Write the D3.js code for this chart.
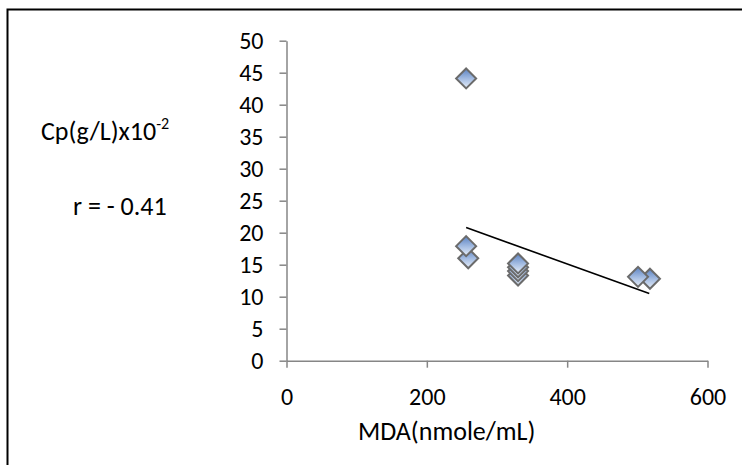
<!DOCTYPE html>
<html>
<head>
<meta charset="utf-8">
<script src="https://cdn.jsdelivr.net/npm/d3@7"></script>
<style>
  html, body { margin: 0; padding: 0; background: #fff; }
  svg text { font-family: Carlito, Lato, "Open Sans", sans-serif; fill: #000; }
</style>
</head>
<body>
<svg id="chart" width="742" height="465"></svg>
<script>
// MDA (nmole/mL) against plasma Cp (g/L x10^-2)
const mdaValues = [256, 256, 259, 330, 330, 330, 330, 501, 518];
const cpValues  = [44.1, 17.9, 16.0, 15.2, 14.6, 14.0, 13.3, 13.1, 12.8];

// Linear trend line end points
const trendMda = [256, 517];
const trendCp  = [20.8, 10.5];

const xTicks = [0, 200, 400, 600];
const yTicks = [0, 5, 10, 15, 20, 25, 30, 35, 40, 45, 50];

const xTitle = "MDA(nmole/mL)";
const yTitle = "Cp(g/L)x10";
const yTitleSup = "-2";
const rLabel = "r = - 0.41";

const svg = d3.select("#chart");

// outer chart frame (runs off the right and bottom edges)
svg.append("rect")
  .attr("x", 7.5).attr("y", 9.5)
  .attr("width", 760).attr("height", 480)
  .attr("fill", "none").attr("stroke", "#000").attr("stroke-width", 2);

const x = d3.scaleLinear().domain([0, 600]).range([286.5, 707.5]);
const y = d3.scaleLinear().domain([0, 50]).range([360.7, 40.7]);

const axisColor = "#868686";

const gx = svg.append("g")
  .attr("transform", `translate(0,${y(0)})`)
  .call(d3.axisBottom(x).tickValues(xTicks).tickSize(7).tickPadding(20).tickSizeOuter(0));
const gy = svg.append("g")
  .attr("transform", `translate(${x(0)},0)`)
  .call(d3.axisLeft(y).tickValues(yTicks).tickSize(7).tickPadding(16).tickSizeOuter(0));

[gx, gy].forEach(g => {
  g.select(".domain").attr("stroke", axisColor).attr("stroke-width", 1.5);
  g.selectAll(".tick line").attr("stroke", axisColor).attr("stroke-width", 1.5);
  g.selectAll(".tick text").attr("font-size", 24).attr("fill", "#000")
    .style("font-family", "Carlito, Lato, 'Open Sans', sans-serif");
});

// marker gradient
const defs = svg.append("defs");
const grad = defs.append("linearGradient")
  .attr("id", "markerFill").attr("x1", 0).attr("y1", 0).attr("x2", 0).attr("y2", 1);
grad.append("stop").attr("offset", "0%").attr("stop-color", "#5a82c2");
grad.append("stop").attr("offset", "55%").attr("stop-color", "#a9c0e4");
grad.append("stop").attr("offset", "100%").attr("stop-color", "#e8eff9");

// trend line
svg.append("line")
  .attr("x1", x(trendMda[0])).attr("y1", y(trendCp[0]))
  .attr("x2", x(trendMda[1])).attr("y2", y(trendCp[1]))
  .attr("stroke", "#000").attr("stroke-width", 1.6);

// diamond markers
const pts = mdaValues.map((m, i) => ({ m, c: cpValues[i] }));
const r = 10;
svg.append("g").selectAll("path")
  .data(pts.slice().sort((a, b) => a.c - b.c))
  .join("path")
  .attr("d", d => {
    const cx = x(d.m), cy = y(d.c);
    return `M${cx},${cy - r}L${cx + r},${cy}L${cx},${cy + r}L${cx - r},${cy}Z`;
  })
  .attr("fill", "url(#markerFill)")
  .attr("stroke", "#6b6b6b").attr("stroke-width", 2)
  .attr("stroke-linejoin", "miter");

// titles
svg.append("text")
  .attr("x", 446.7).attr("y", 440)
  .attr("text-anchor", "middle").attr("font-size", 26)
  .text(xTitle);

const yt = svg.append("text")
  .attr("x", 41).attr("y", 140)
  .attr("font-size", 26);
yt.append("tspan").text(yTitle);
yt.append("tspan").attr("font-size", 16).attr("dy", -11).text(yTitleSup);

svg.append("text")
  .attr("x", 73).attr("y", 215)
  .attr("font-size", 26)
  .text(rLabel);
</script>
</body>
</html>
